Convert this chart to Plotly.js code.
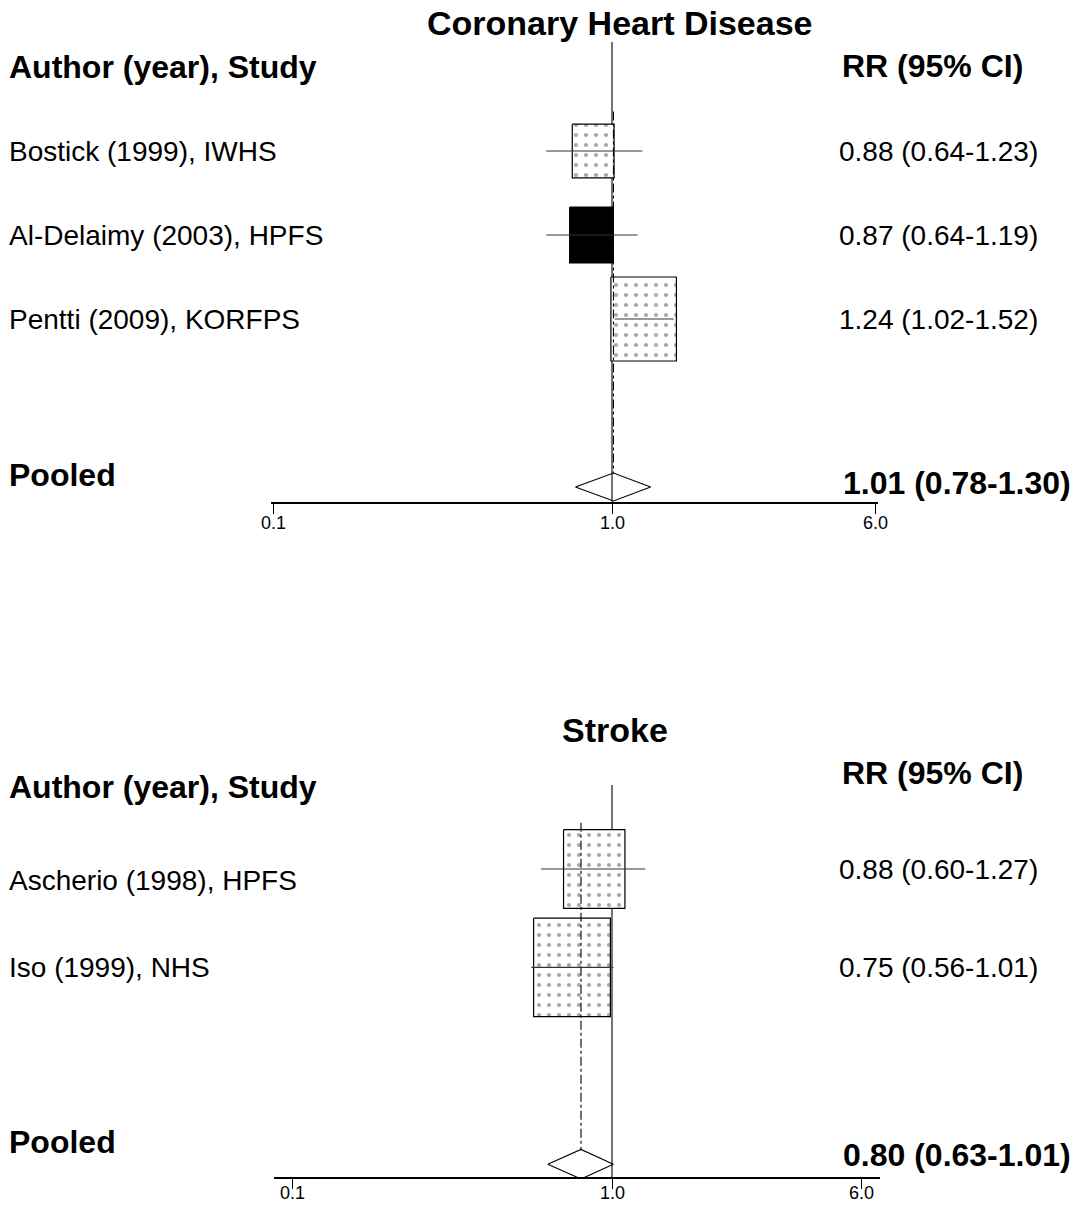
<!DOCTYPE html>
<html><head><meta charset="utf-8">
<script src="https://cdn.plot.ly/plotly-3.0.1.min.js"></script>
<style>html,body{margin:0;padding:0;background:#fff}</style>
</head><body><div id="chart" style="width:1085px;height:1205px"></div>
<script>
// ---- Data ----
const chdStudies = ['Bostick (1999), IWHS', 'Al-Delaimy (2003), HPFS', 'Pentti (2009), KORFPS'];
const chdRR = [0.88, 0.87, 1.24];
const chdLow = [0.64, 0.64, 1.02];
const chdHigh = [1.23, 1.19, 1.52];
const chdWeight = [22, 24, 54];
const chdPooled = [1.01, 0.78, 1.30]; // RR, low, high

const strokeStudies = ['Ascherio (1998), HPFS', 'Iso (1999), NHS'];
const strokeRR = [0.88, 0.75];
const strokeLow = [0.60, 0.56];
const strokeHigh = [1.27, 1.01];
const strokeWeight = [39, 61];
const strokePooled = [0.80, 0.63, 1.01];

const tickVals = [0.1, 1, 6];
const tickText = ['0.1', '1.0', '6.0'];

// ---- Layout / style ----
const W = 1085, H = 1205;
const FONT = 'Liberation Sans, Arial, Helvetica, sans-serif';
const fmt = (r, l, h) => r.toFixed(2) + ' (' + l.toFixed(2) + '-' + h.toFixed(2) + ')';
const py = px => 1 - px / H;
const pxx = px => px / W;

const panels = [
  { ax: '', title: 'Coronary Heart Disease', titleX: 620, titleY: 22.5,
    authorY: 67, rrHdrY: 66, pooledLblY: 475, pooledValY: 482.5, tickLblY: 523,
    pxTop: 0, pxAxis: 502, row0: 151, sp: 84,
    xL: 271, xR: 878, px1: 612, dec: 339, vTopPx: 42, dashTopRow: -0.47,
    pooledRow: 4, diaH: 0.167,
    studies: chdStudies, rr: chdRR, lo: chdLow, hi: chdHigh, w: chdWeight, pooled: chdPooled,
    styles: ['pattern', 'solid', 'pattern'], labelShift: [0, 0, 0] },
  { ax: '2', title: 'Stroke', titleX: 615, titleY: 730,
    authorY: 787, rrHdrY: 773, pooledLblY: 1142, pooledValY: 1155, tickLblY: 1193,
    pxTop: 600, pxAxis: 1177, row0: 869, sp: 98.4,
    xL: 274, xR: 880, px1: 612, dec: 320, vTopPx: 785, dashTopRow: -0.47,
    pooledRow: 3, diaH: 0.15,
    studies: strokeStudies, rr: strokeRR, lo: strokeLow, hi: strokeHigh, w: strokeWeight, pooled: strokePooled,
    styles: ['pattern', 'pattern'], labelShift: [-11, 0] }
];

const traces = [];
const shapes = [];
const annotations = [];
const layout = {
  width: W, height: H, margin: { l: 0, r: 0, t: 0, b: 0 },
  paper_bgcolor: '#fff', plot_bgcolor: 'rgba(0,0,0,0)',
  showlegend: false, hovermode: false,
  font: { family: FONT, color: '#000' }
};

panels.forEach(p => {
  const xa = 'x' + p.ax, ya = 'y' + p.ax;
  const xName = 'xaxis' + p.ax, yName = 'yaxis' + p.ax;
  layout[xName] = {
    type: 'log', anchor: ya,
    domain: [pxx(p.xL), pxx(p.xR)],
    range: [(p.xL - p.px1) / p.dec, (p.xR - p.px1) / p.dec],
    showline: true, linecolor: '#000', linewidth: 2,
    ticks: 'outside', ticklen: 10, tickwidth: 1, tickcolor: '#000',
    tickvals: tickVals, showticklabels: false,
    showgrid: false, zeroline: false, fixedrange: true
  };
  layout[yName] = {
    anchor: xa,
    domain: [py(p.pxAxis), py(p.pxTop)],
    range: [(p.pxAxis - p.row0) / p.sp, (p.pxTop - p.row0) / p.sp],
    visible: false, showgrid: false, zeroline: false, fixedrange: true
  };

  // tick labels as text placed on the axis scale
  tickVals.forEach((v, k) => {
    annotations.push({
      xref: xa, yref: 'paper', x: Math.log10(v), y: py(p.tickLblY),
      xanchor: 'center', yanchor: 'middle', showarrow: false,
      text: tickText[k], font: { size: 18, family: FONT, color: '#000' }
    });
  });

  const wmax = Math.max(...p.w);
  p.rr.forEach((rr, i) => {
    const hh = 0.5 * Math.sqrt(p.w[i] / wmax);        // half height in rows
    const halfWpx = 0.78 * p.sp * hh;                  // half width in px
    const f = Math.pow(10, halfWpx / p.dec);
    const x0 = rr / f, x1 = rr * f;
    const solid = p.styles[i] === 'solid';
    traces.push({
      type: 'scatter', mode: 'lines', xaxis: xa, yaxis: ya,
      x: [x0, x1, x1, x0, x0], y: [i - hh, i - hh, i + hh, i + hh, i - hh],
      fill: 'toself', fillcolor: solid ? '#000' : '#fff',
      fillpattern: solid ? undefined : { shape: '.', fgcolor: '#a8a8a8', bgcolor: '#ffffff', size: 10, solidity: 0.14 },
      line: { color: '#000', width: 1.2 }, hoverinfo: 'skip'
    });
    traces.push({
      type: 'scatter', mode: 'lines', xaxis: xa, yaxis: ya,
      x: [p.lo[i], p.hi[i]], y: [i, i],
      line: { color: '#333', width: 1.2 }, hoverinfo: 'skip'
    });
    annotations.push({
      xref: 'paper', yref: ya, x: pxx(7), y: i, yshift: p.labelShift[i],
      xanchor: 'left', yanchor: 'middle', showarrow: false,
      text: p.studies[i], font: { size: 28, family: FONT, color: '#000' }
    });
    annotations.push({
      xref: 'paper', yref: ya, x: pxx(837), y: i,
      xanchor: 'left', yanchor: 'middle', showarrow: false,
      text: fmt(rr, p.lo[i], p.hi[i]), font: { size: 28, family: FONT, color: '#000' }
    });
  });

  // pooled diamond
  const [pr, pl, ph] = p.pooled;
  const r = p.pooledRow, d = p.diaH;
  traces.push({
    type: 'scatter', mode: 'lines', xaxis: xa, yaxis: ya,
    x: [pl, pr, ph, pr, pl], y: [r, r - d, r, r + d, r],
    line: { color: '#000', width: 1.1 }, hoverinfo: 'skip'
  });

  // reference line at 1.0 (below boxes)
  shapes.push({
    type: 'line', layer: 'below', xref: xa, yref: ya,
    x0: 1, x1: 1, y0: (p.vTopPx - p.row0) / p.sp, y1: (p.pxAxis - p.row0) / p.sp,
    line: { color: '#000', width: 1.1 }
  });
  // pooled estimate dashed line
  shapes.push({
    type: 'line', layer: 'above', xref: xa, yref: ya,
    x0: pr, x1: pr, y0: p.dashTopRow, y1: r - d,
    line: { color: '#000', width: 1.1, dash: 'dashdot' }
  });

  // headers
  annotations.push({
    xref: 'paper', yref: 'paper', x: pxx(p.titleX), y: py(p.titleY),
    xanchor: 'center', yanchor: 'middle', showarrow: false,
    text: '<b>' + p.title + '</b>', font: { size: 34, family: FONT, color: '#000' }
  });
  annotations.push({
    xref: 'paper', yref: 'paper', x: pxx(7), y: py(p.authorY),
    xanchor: 'left', yanchor: 'middle', showarrow: false,
    text: '<b>Author (year), Study</b>', font: { size: 32, family: FONT, color: '#000' }
  });
  annotations.push({
    xref: 'paper', yref: 'paper', x: pxx(840), y: py(p.rrHdrY),
    xanchor: 'left', yanchor: 'middle', showarrow: false,
    text: '<b>RR (95% CI)</b>', font: { size: 32, family: FONT, color: '#000' }
  });
  annotations.push({
    xref: 'paper', yref: 'paper', x: pxx(7), y: py(p.pooledLblY),
    xanchor: 'left', yanchor: 'middle', showarrow: false,
    text: '<b>Pooled</b>', font: { size: 32, family: FONT, color: '#000' }
  });
  annotations.push({
    xref: 'paper', yref: 'paper', x: pxx(841), y: py(p.pooledValY),
    xanchor: 'left', yanchor: 'middle', showarrow: false,
    text: '<b>' + fmt(pr, pl, ph) + '</b>', font: { size: 32, family: FONT, color: '#000' }
  });
});

layout.shapes = shapes;
layout.annotations = annotations;
Plotly.newPlot('chart', traces, layout, { staticPlot: true, displayModeBar: false });
</script>
</body></html>
